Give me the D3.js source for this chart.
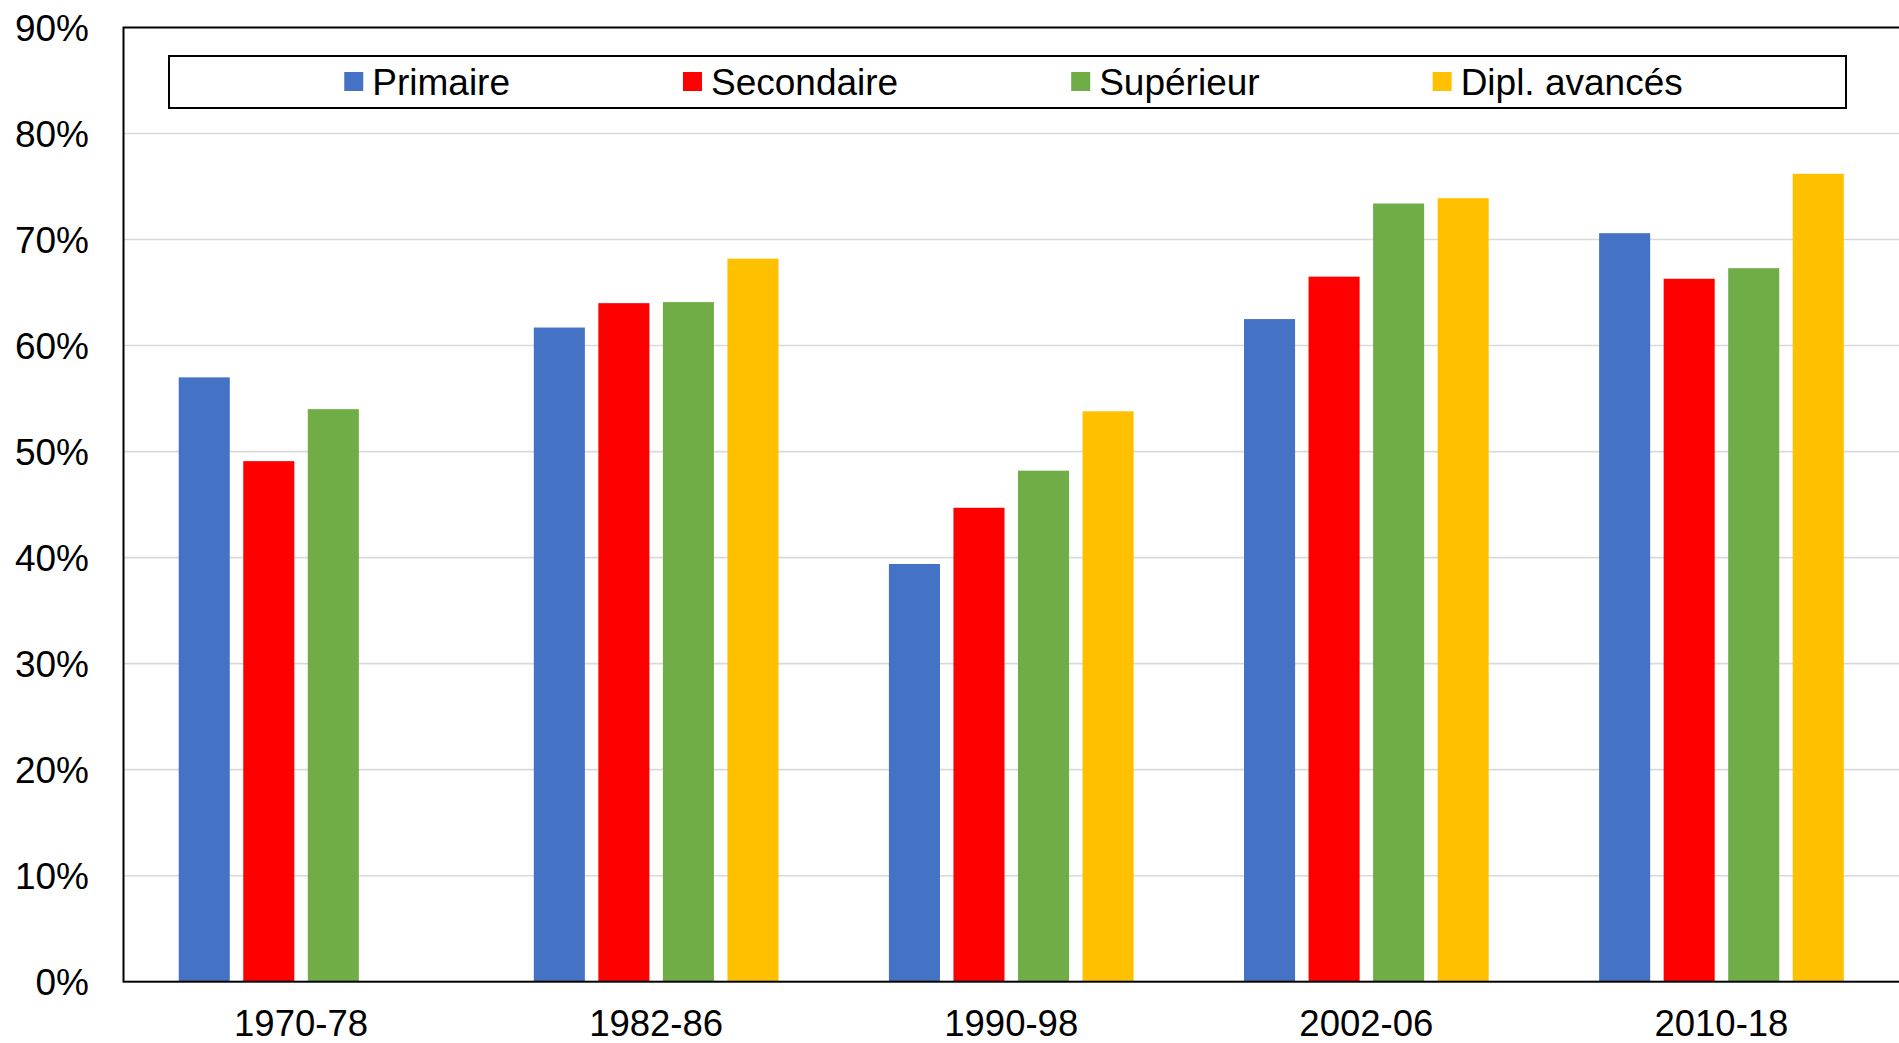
<!DOCTYPE html>
<html>
<head>
<meta charset="utf-8">
<script src="https://cdn.jsdelivr.net/npm/d3@7"></script>
<style>
  body { margin: 0; background: #fff; }
  text { font-family: "Liberation Sans", Arial, sans-serif; fill: #000; }
</style>
</head>
<body>
<div id="chart"></div>
<script>
const width = 1899, height = 1043;
const margin = ({top: 27.5, right: 0, bottom: 61.3, left: 123.5});

// data (percent)
const periods = ["1970-78", "1982-86", "1990-98", "2002-06", "2010-18"];
const series = ["Primaire", "Secondaire", "Supérieur", "Dipl. avancés"];
const colors = ["#4472C4", "#FF0000", "#70AD47", "#FFC000"];
const primaire   = [57.0, 61.7, 39.4, 62.5, 70.6];
const secondaire = [49.1, 64.0, 44.7, 66.5, 66.3];
const superieur  = [54.0, 64.1, 48.2, 73.4, 67.3];
const avances    = [null, 68.2, 53.8, 73.9, 76.2];
const yTicks = [0, 10, 20, 30, 40, 50, 60, 70, 80, 90];

const values = [primaire, secondaire, superieur, avances];

let svg = d3.select("#chart").append("svg")
  .attr("width", width).attr("height", height);

let x0 = d3.scaleBand().domain(periods)
  .range([margin.left, width - margin.right])
  .paddingInner(0.311).paddingOuter(0.1555);

let x1 = d3.scaleBand().domain(series)
  .range([0, x0.bandwidth()])
  .paddingInner(0.209);

let y = d3.scaleLinear().domain([0, 90])
  .range([height - margin.bottom, margin.top]);

// gridlines
svg.append("g")
  .selectAll("line")
  .data(yTicks.filter(d => d > 0 && d < 90))
  .join("line")
    .attr("x1", margin.left).attr("x2", width)
    .attr("y1", d => y(d)).attr("y2", d => y(d))
    .attr("stroke", "#d9d9d9").attr("stroke-width", 1.6);

// bars
let groups = svg.append("g")
  .selectAll("g")
  .data(periods)
  .join("g")
    .attr("transform", d => `translate(${x0(d)},0)`);

groups.selectAll("rect")
  .data((p, i) => series.map((s, j) => ({s: s, v: values[j][i], c: colors[j]})).filter(d => d.v != null))
  .join("rect")
    .attr("x", d => x1(d.s))
    .attr("width", x1.bandwidth())
    .attr("y", d => y(d.v))
    .attr("height", d => y(0) - y(d.v))
    .attr("fill", d => d.c);

// frame: top border, left axis, bottom axis
svg.append("rect")
  .attr("x", margin.left).attr("y", margin.top)
  .attr("width", width - margin.left + 5)
  .attr("height", y(0) - margin.top)
  .attr("fill", "none").attr("stroke", "#000").attr("stroke-width", 2);

// y axis labels
svg.append("g")
  .selectAll("text")
  .data(yTicks)
  .join("text")
    .attr("x", 89)
    .attr("y", d => y(d))
    .attr("dy", "0.36em")
    .attr("text-anchor", "end")
    .style("font-size", "37px")
    .text(d => d + "%");

// x axis labels
svg.append("g")
  .selectAll("text")
  .data(periods)
  .join("text")
    .attr("x", d => x0(d) + x0.bandwidth() / 2)
    .attr("y", 1036)
    .attr("text-anchor", "middle")
    .style("font-size", "36.5px")
    .text(d => d);

// legend
const legBox = {x: 169, y: 56, w: 1677, h: 52};
svg.append("rect")
  .attr("x", legBox.x).attr("y", legBox.y)
  .attr("width", legBox.w).attr("height", legBox.h)
  .attr("fill", "#fff").attr("stroke", "#000").attr("stroke-width", 2);

let legend = svg.append("g");
let items = legend.selectAll("g")
  .data(series)
  .join("g");

items.append("rect")
  .attr("width", 19).attr("height", 19)
  .attr("y", 72)
  .attr("fill", (d, i) => colors[i]);

items.append("text")
  .attr("x", 28)
  .attr("y", 94.5)
  .style("font-size", "37px")
  .text(d => d);

// place items with equal gaps, nudged to match the original
let gap = 173, widths = [];
items.each(function() { widths.push(28 + d3.select(this).select("text").node().getComputedTextLength()); });
let total = d3.sum(widths) + gap * (widths.length - 1);
let pos = legBox.x + (legBox.w - total) / 2 + 6;
items.attr("transform", (d, i) => {
  let t = `translate(${pos},0)`;
  pos += widths[i] + gap;
  return t;
});
</script>
</body>
</html>
